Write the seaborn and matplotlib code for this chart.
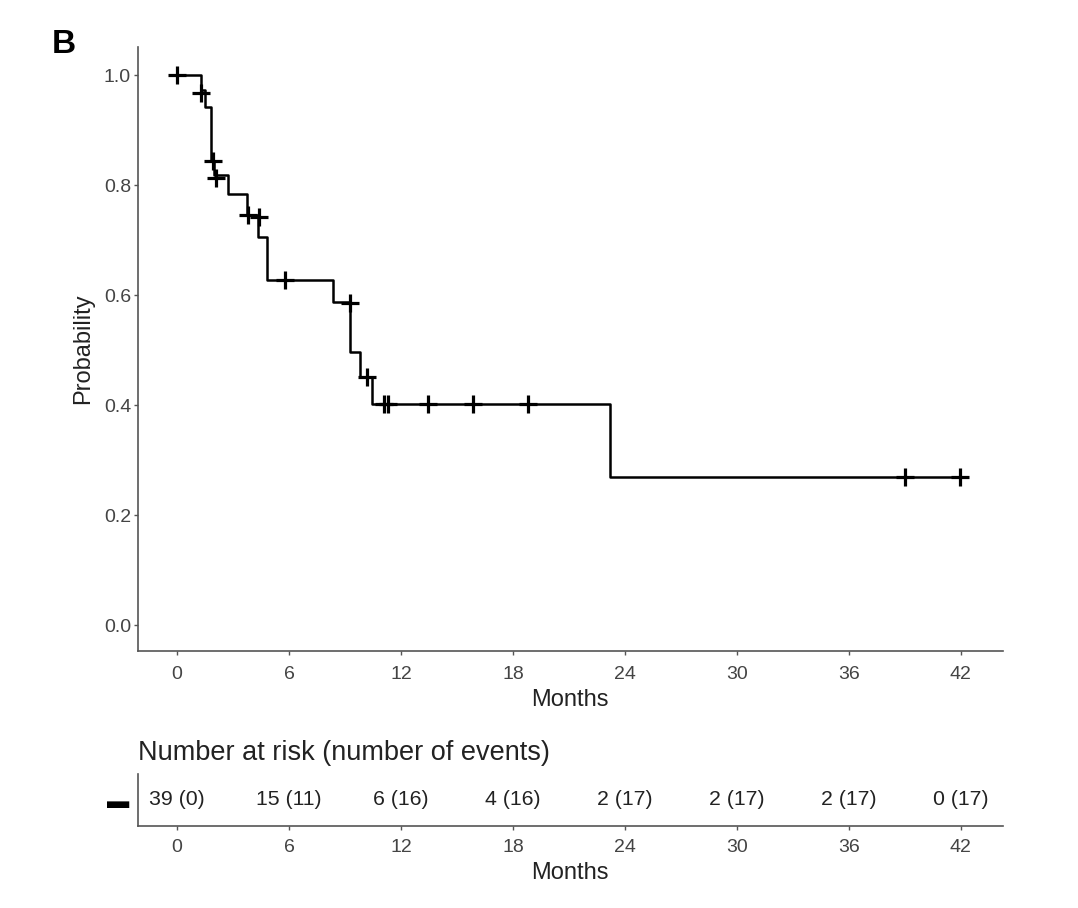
import matplotlib
matplotlib.use("Agg")
import matplotlib.pyplot as plt
import numpy as np
import seaborn as sns

# Kaplan-Meier steps
step_months = [0, 1.3, 1.5, 1.82, 1.95, 2.73, 3.75, 4.34, 4.82, 8.36, 9.27, 9.8, 10.44, 23.2, 41.95]
step_prob = [1.0, 0.974, 0.942, 0.845, 0.818, 0.784, 0.745, 0.705, 0.627, 0.587, 0.496, 0.451, 0.402, 0.269, 0.269]

# censor marks
cens_months = [0.0, 1.3, 1.9, 2.1, 3.8, 4.4, 5.8, 9.27, 10.2, 11.1, 11.3, 13.45, 15.85, 18.8, 39.0, 41.95]
cens_prob = [1.0, 0.967, 0.845, 0.813, 0.745, 0.742, 0.627, 0.585, 0.451, 0.402, 0.402, 0.402, 0.402, 0.402, 0.269, 0.269]

# risk table
risk_months = [0, 6, 12, 18, 24, 30, 36, 42]
risk_labels = ["39 (0)", "15 (11)", "6 (16)", "4 (16)", "2 (17)", "2 (17)", "2 (17)", "0 (17)"]

x_ticks = [0, 6, 12, 18, 24, 30, 36, 42]
y_ticks = [0.0, 0.2, 0.4, 0.6, 0.8, 1.0]

sns.set_theme(style="ticks")
plt.rcParams["font.family"] = ["Liberation Sans", "DejaVu Sans"]

spine_col = "#555555"
tick_col = "#444444"
text_col = "#222222"

fig = plt.figure(figsize=(10.78, 9.08), dpi=100)
ax = fig.add_axes([0.128, 0.283, 0.802, 0.665])

sns.lineplot(x=step_months, y=step_prob, drawstyle="steps-post", color="black",
             linewidth=1.8, ax=ax, estimator=None)
sns.scatterplot(x=cens_months, y=cens_prob, marker="+", s=150, color="black",
                linewidth=2.3, ax=ax, zorder=3)

ax.set_xlim(-2.1, 44.25)
ax.set_ylim(-0.047, 1.051)
ax.set_xticks(x_ticks)
ax.set_yticks(y_ticks)
ax.set_yticklabels([f"{v:.1f}" for v in y_ticks])
ax.set_xlabel("Months", fontsize=17, color=text_col, labelpad=4)
ax.set_ylabel("Probability", fontsize=17, color=text_col, labelpad=7)
for s in ["top", "right"]:
    ax.spines[s].set_visible(False)
for s in ["left", "bottom"]:
    ax.spines[s].set_color(spine_col)
    ax.spines[s].set_linewidth(1.2)
ax.tick_params(axis="both", labelsize=14, colors=spine_col, labelcolor=tick_col,
               length=3, width=1.0)
ax.tick_params(axis="x", pad=8)
ax.tick_params(axis="y", pad=2)

fig.text(0.048, 0.951, "B", fontsize=24, fontweight="bold", color="black",
         ha="left", va="center")

# risk table
rax = fig.add_axes([0.128, 0.0903, 0.802, 0.0573])
rax.set_xlim(-2.1, 44.25)
rax.set_ylim(0, 1)
for xm, lab in zip(risk_months, risk_labels):
    rax.text(xm, 0.5, lab, ha="center", va="center", fontsize=15.3, color=text_col)
rax.set_xticks(x_ticks)
rax.set_yticks([0.5])
rax.set_yticklabels(["\u25ac"], fontsize=16, color="black")
rax.tick_params(axis="y", length=0, pad=6)
rax.tick_params(axis="x", labelsize=14, colors=spine_col, labelcolor=tick_col,
                length=3, width=1.0, pad=6)
for s in ["top", "right"]:
    rax.spines[s].set_visible(False)
for s in ["left", "bottom"]:
    rax.spines[s].set_color(spine_col)
    rax.spines[s].set_linewidth(1.2)
rax.set_xlabel("Months", fontsize=17, color=text_col, labelpad=5)
rax.set_title("Number at risk (number of events)", loc="left", fontsize=19.5,
              color=text_col, pad=10)

fig.savefig("out.png", dpi=100, facecolor="white")
